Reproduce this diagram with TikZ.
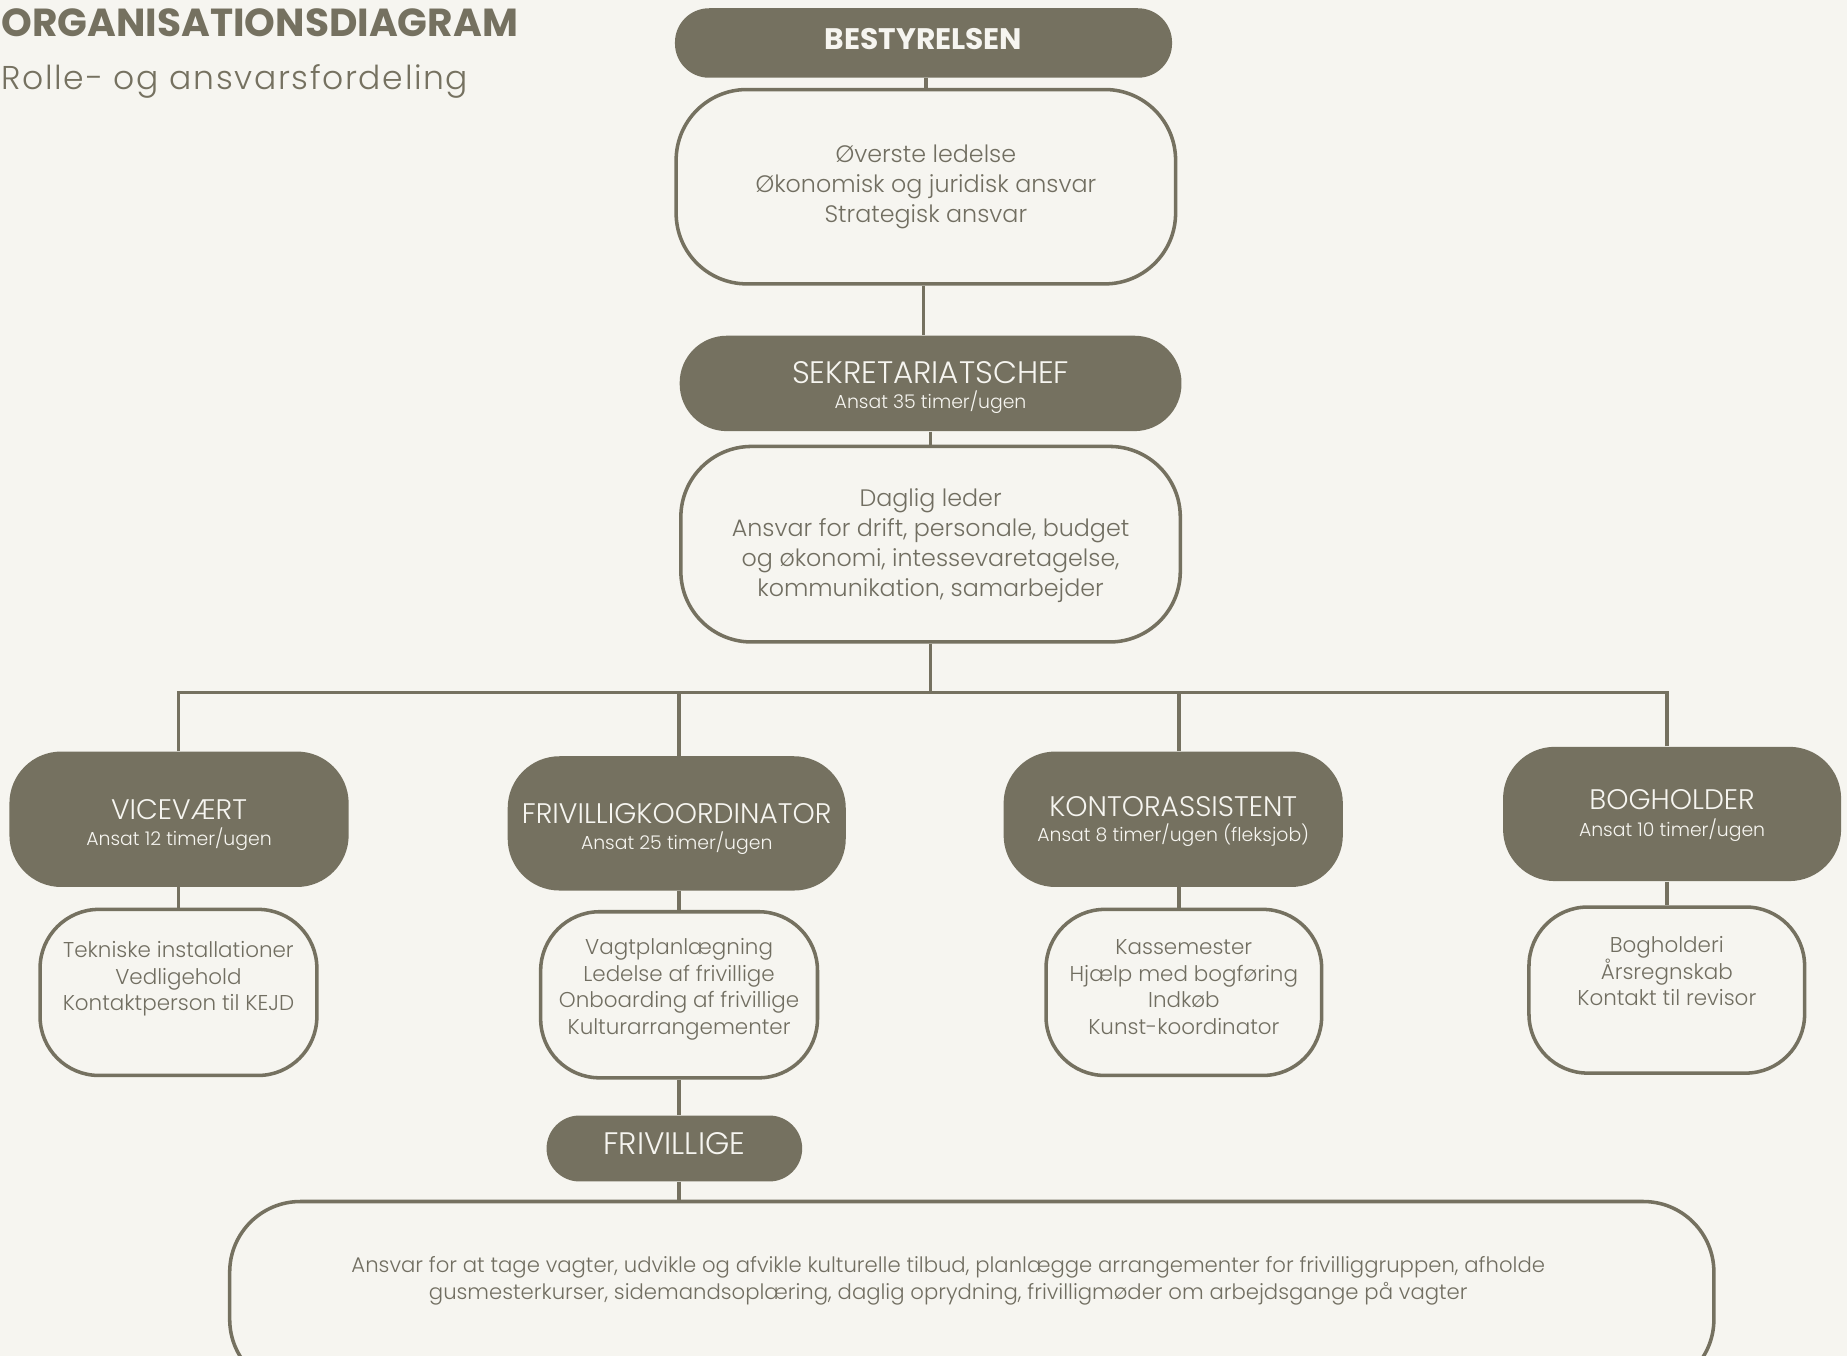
\documentclass[tikz,border=0pt]{standalone}
\usepackage{fontspec}
\setmainfont{Poppins}
\newfontfamily\lightfont{Poppins Light}
\usetikzlibrary{calc}
\definecolor{bg}{HTML}{F6F5F0}
\definecolor{olive}{HTML}{757160}
\definecolor{txt}{HTML}{716E61}
\definecolor{light}{HTML}{F6F5F0}
\tikzset{
  pillbox/.style={fill=olive, draw=none, rounded corners=#1, inner sep=0pt},
  pillbox/.default=20pt,
  wbox/.style={fill=bg, draw=olive, line width=1.5pt, rounded corners=#1, inner sep=0pt},
  wbox/.default=25pt,
  conn/.style={draw=olive, line width=1.5pt},
  pilltitle/.style={text=light, font=\lightfont\fontsize{12}{14}\selectfont, align=center, inner sep=0pt},
  pillsub/.style={text=light, font=\lightfont\fontsize{8}{10}\selectfont, align=center, inner sep=0pt},
  bigtext/.style={text=txt, font=\lightfont\fontsize{10.1}{12.75}\selectfont, align=center, inner sep=0pt},
  smalltext/.style={text=txt, font=\lightfont\fontsize{9.1}{11.3}\selectfont, align=center, inner sep=0pt},
  bottomtext/.style={text=txt, font=\lightfont\fontsize{9}{11.5}\selectfont, align=center, inner sep=0pt},
}
\begin{document}
\begin{tikzpicture}[x=0.5pt, y=-0.5pt]
\fill[bg] (0,0) rectangle (1568,1151);
\useasboundingbox (0,0) rectangle (1568,1151);
\clip (0,0) rectangle (1568,1151);

% title
\node[anchor=base west, text=olive, inner sep=0pt, font=\fontsize{16.6}{19}\selectfont\bfseries] (title) at (1,31) {ORGANISATIONSDIAGRAM};
\node[anchor=base west, text=olive, inner sep=0pt, font=\lightfont\fontsize{14}{17}\selectfont\addfontfeatures{LetterSpace=5}] (subtitle) at (1,76) {Rolle- og ansvarsfordeling};

% top chain
\node[pillbox=14.5pt, minimum width=211pt, minimum height=29.5pt] (best) at (784,36.5) {};
\node[text=light, inner sep=0pt, font=\fontsize{12.6}{14}\selectfont\bfseries] (bestt) at (784,33) {BESTYRELSEN};

\node[wbox=30pt, minimum width=212pt, minimum height=82.5pt] (box1) at (786,158.5) {};
\node[bigtext] (box1t) at (786,159) {Øverste ledelse\\Økonomisk og juridisk ansvar\\Strategisk ansvar};

\node[pillbox=20pt, minimum width=213pt, minimum height=40.5pt] (sekr) at (790,325.5) {};
\node[pilltitle, font=\lightfont\fontsize{13.2}{15}\selectfont] (sekrt) at (790,316) {SEKRETARIATSCHEF};
\node[pillsub] (sekrs) at (790,341) {Ansat 35 timer/ugen};

\node[wbox=30pt, minimum width=212pt, minimum height=83pt] (box2) at (790,462) {};
\node[bigtext] (box2t) at (790,463) {Daglig leder\\Ansvar for drift, personale, budget\\og økonomi, intessevaretagelse,\\kommunikation, samarbejder};

% second level
\node[pillbox=22pt, minimum width=144pt, minimum height=57.5pt] (vice) at (152,695.5) {};
\node[pilltitle] (vicet) at (152,687) {VICEVÆRT};
\node[pillsub] (vices) at (152,712) {Ansat 12 timer/ugen};

\node[pillbox=22pt, minimum width=143.5pt, minimum height=57pt] (friko) at (574.5,699) {};
\node[pilltitle] (frikot) at (574.5,691) {FRIVILLIGKOORDINATOR};
\node[pillsub] (frikos) at (574.5,716) {Ansat 25 timer/ugen};

\node[pillbox=22pt, minimum width=144pt, minimum height=57.5pt] (kontor) at (996,695.5) {};
\node[pilltitle] (kontort) at (996,685) {KONTORASSISTENT};
\node[pillsub] (kontors) at (996,709) {Ansat 8 timer/ugen (fleksjob)};

\node[pillbox=22pt, minimum width=143.5pt, minimum height=57pt] (bogh) at (1419.5,691) {};
\node[pilltitle] (bogt) at (1419.5,679) {BOGHOLDER};
\node[pillsub] (boghs) at (1419.5,705) {Ansat 10 timer/ugen};

% third level boxes
\node[wbox=25pt, minimum width=117.5pt, minimum height=70.5pt] (viceb) at (151.5,842.5) {};
\node[smalltext] (vicebt) at (151.5,831) {Tekniske installationer\\Vedligehold\\Kontaktperson til KEJD};

\node[wbox=25pt, minimum width=117.5pt, minimum height=70.5pt] (frikob) at (576.5,844.5) {};
\node[smalltext] (frikobt) at (576.5,840) {Vagtplanlægning\\Ledelse af frivillige\\Onboarding af frivillige\\Kulturarrangementer};

\node[wbox=25pt, minimum width=117pt, minimum height=70.5pt] (kontorb) at (1005,842.5) {};
\node[smalltext] (kontorbt) at (1005,838) {Kassemester\\Hjælp med bogføring\\Indkøb\\Kunst-koordinator};

\node[wbox=25pt, minimum width=117pt, minimum height=70.5pt] (boghb) at (1415,840.5) {};
\node[smalltext] (boghbt) at (1415,824.5) {Bogholderi\\Årsregnskab\\Kontakt til revisor};

% frivillige
\node[pillbox=14pt, minimum width=108.5pt, minimum height=28pt] (friv) at (572.5,975) {};
\node[text=light, inner sep=0pt, font=\lightfont\fontsize{13.2}{15}\selectfont] (frivt) at (572.5,971) {FRIVILLIGE};

\node[wbox=30pt, minimum width=630pt, minimum height=80pt] (bottom) at (825,1100) {};
\node[bottomtext] (bottomt) at (805,1087) {Ansvar for at tage vagter, udvikle og afvikle kulturelle tilbud, planlægge arrangementer for frivilliggruppen, afholde\\gusmesterkurser, sidemandsoplæring, daglig oprydning, frivilligmøder om arbejdsgange på vagter};

% connectors
\coordinate (bus) at (790,588);
\draw[conn] (best.south -| box1.north) -- (box1.north);
\draw[conn] (box1.south -| 784,0) -- (sekr.north -| 784,0);
\draw[conn] (sekr.south) -- (box2.north);
\draw[conn] (box2.south) -- (bus);
\draw[conn] (vice.north -| viceb.north) |- (bus);
\draw[conn] (bogh.north -| boghb.north) |- (bus);
\draw[conn] (friko.north -| frikob.north) -- (frikob.north |- bus);
\draw[conn] (kontor.north -| 1001,0) -- (bus -| 1001,0);
\draw[conn] (vice.south -| viceb.north) -- (viceb.north);
\draw[conn] (friko.south -| frikob.north) -- (frikob.north);
\draw[conn] (kontor.south -| 1001,0) -- (kontorb.north -| 1001,0);
\draw[conn] (bogh.south -| boghb.north) -- (boghb.north);
\draw[conn] (frikob.south) -- (friv.north -| frikob.south);
\draw[conn] (friv.south -| frikob.south) -- (bottom.north -| frikob.south);
\end{tikzpicture}
\end{document}
